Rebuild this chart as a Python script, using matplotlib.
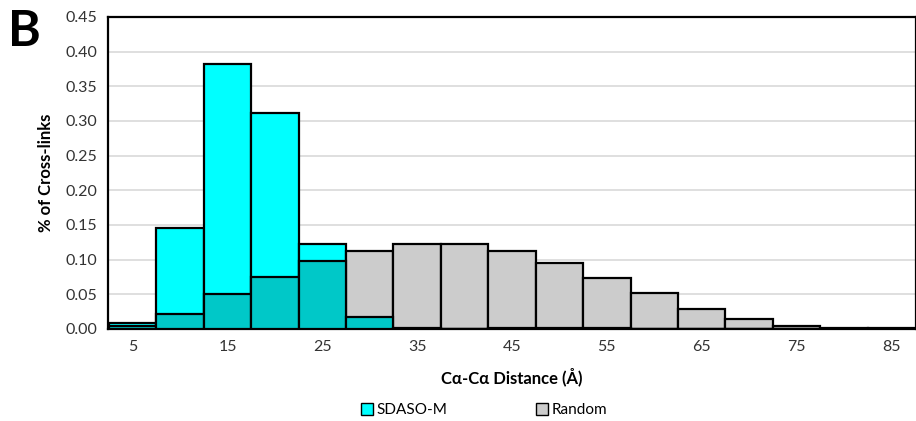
import numpy as np
from matplotlib import pyplot as plt
from matplotlib.patches import Patch

plt.rcParams['font.family'] = ['Lato', 'DejaVu Sans']

distance = [5, 10, 15, 20, 25, 30, 35, 40, 45, 50, 55, 60, 65, 70, 75, 80, 85]
sdaso = [0.008, 0.145, 0.382, 0.311, 0.123, 0.017, 0.002, 0.0, 0.002, 0.002, 0.002,
         0.0, 0.0, 0.0, 0.0, 0.0, 0.0]
random_xl = [0.005, 0.022, 0.051, 0.075, 0.098, 0.113, 0.122, 0.122, 0.112, 0.095,
             0.073, 0.052, 0.029, 0.015, 0.005, 0.001, 0.001]

cyan = '#00FFFF'
grey = '#CCCCCC'
teal = '#00C8C8'

x = np.array(distance)
s = np.array(sdaso)
r = np.array(random_xl)
hi = np.maximum(s, r)
lo = np.minimum(s, r)
hi_col = [cyan if a > b else grey for a, b in zip(s, r)]

fig = plt.figure(figsize=(9.16, 4.21), dpi=100)
ax = fig.add_axes([108/916, 1-329/421, 808/916, 312/421])

ax.bar(x, hi, width=5, color=hi_col, edgecolor='black', linewidth=1.6, zorder=2)
ax.bar(x, lo, width=5, color=teal, edgecolor='black', linewidth=1.6, zorder=3)

ax.set_xlim(2.4, 87.6)
ax.set_ylim(0, 0.45)
ax.set_yticks(np.arange(0, 0.451, 0.05))
ax.set_yticklabels(['%.2f' % v for v in np.arange(0, 0.451, 0.05)])
ax.set_xticks(distance[::2])
ax.tick_params(length=0, labelsize=11.5, colors='#333333', pad=8)
ax.yaxis.grid(True, color='#D9D9D9', lw=1.2, zorder=0)
ax.set_axisbelow(True)
for sp in ax.spines.values():
    sp.set_linewidth(1.6)
    sp.set_color('black')

ax.set_xlabel('Cα-Cα Distance (Å)', fontsize=12, fontweight='bold', labelpad=10)
ax.set_ylabel('% of Cross-links', fontsize=12, fontweight='bold', labelpad=8)

handles = [Patch(facecolor=cyan, edgecolor='black', label='SDASO-M'),
           Patch(facecolor=grey, edgecolor='black', label='Random')]
fig.legend(handles=handles, loc='center', bbox_to_anchor=(484/916, 1-410/421), ncol=2,
           frameon=False, fontsize=11, handlelength=0.8, handleheight=0.8,
           handletextpad=0.2, columnspacing=5.8)

fig.text(8/916, 1-32/421, 'B', fontsize=36, fontweight='bold', va='center')

plt.savefig('out.png', dpi=100)
